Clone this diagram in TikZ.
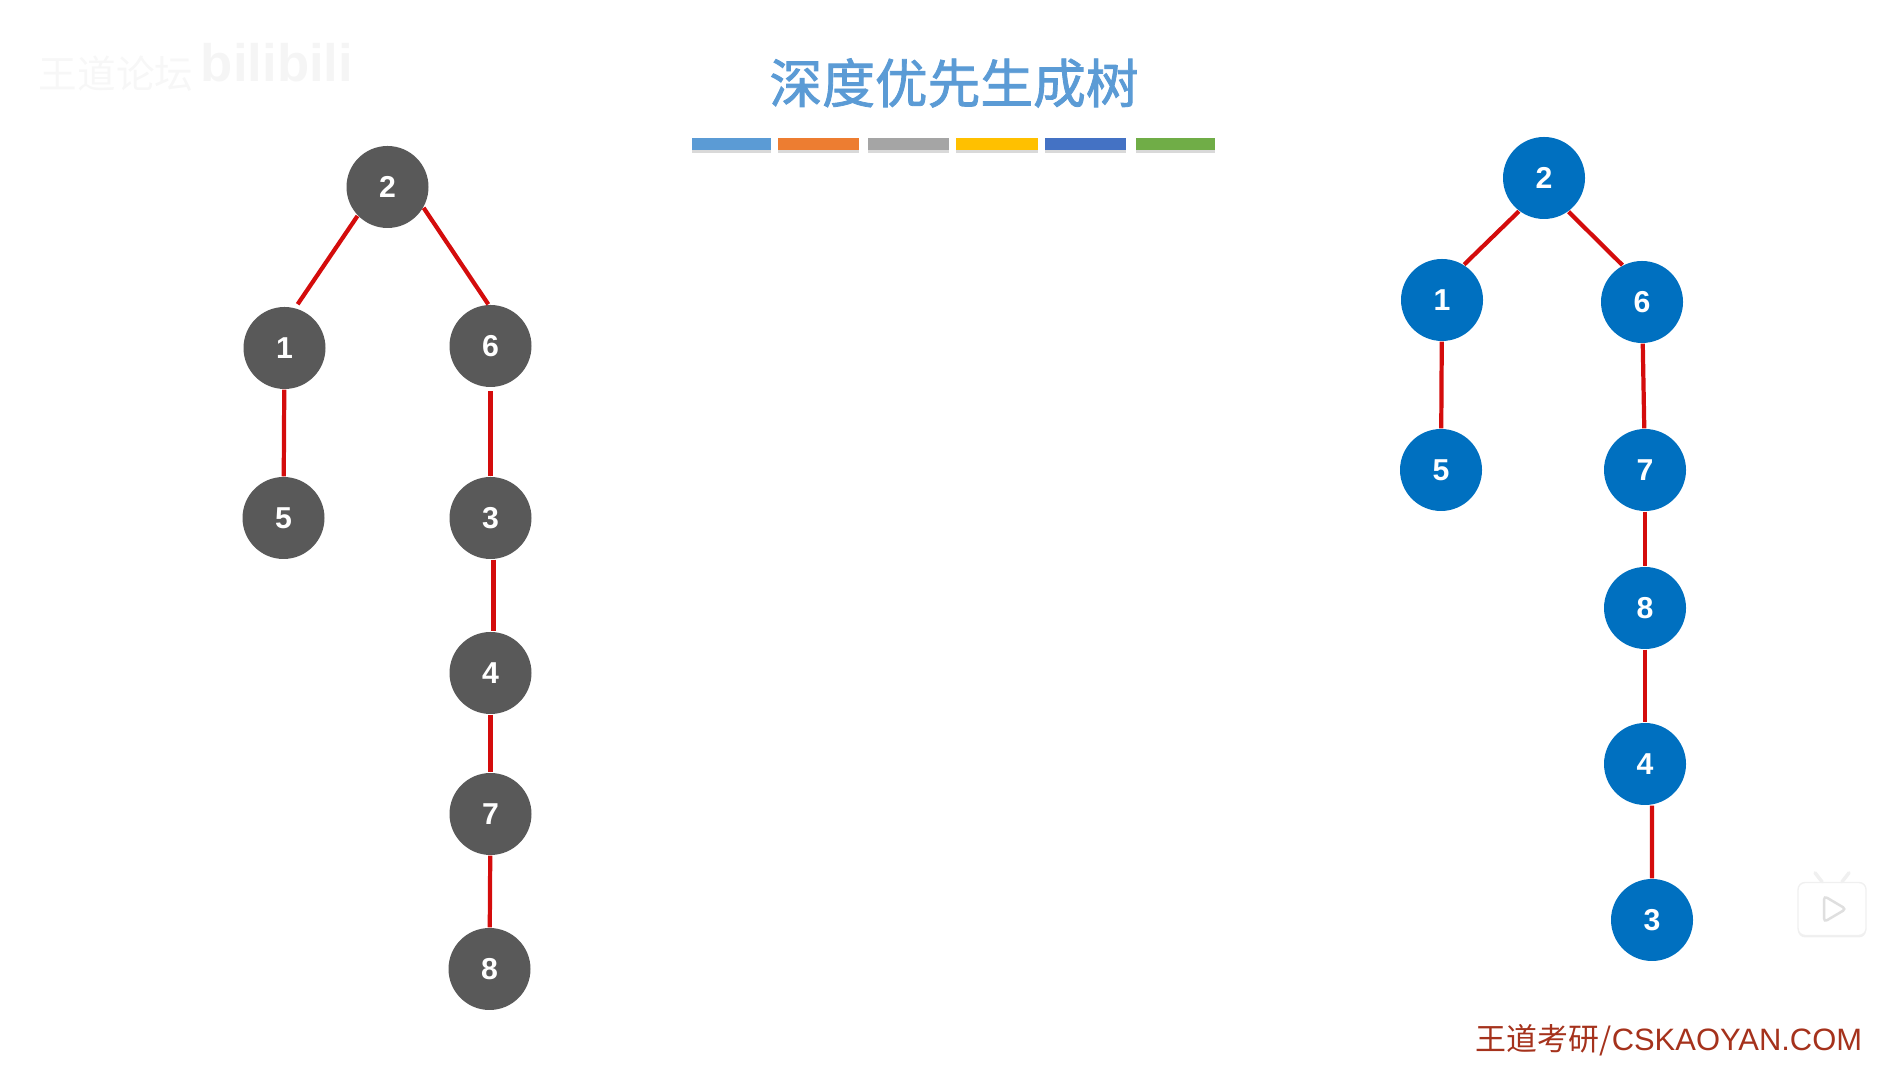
\documentclass[tikz,border=0pt]{standalone}
\usepackage{fontspec}
\setmainfont{Liberation Sans}
\newfontfamily\cjk{Noto Sans CJK SC}
\newfontfamily\cjkhead[FakeBold=1.6]{Noto Sans CJK SC}
\usetikzlibrary{shadows}
\definecolor{titleblue}{HTML}{5B9BD5}
\definecolor{nodegray}{HTML}{595959}
\definecolor{nodeblue}{HTML}{0070C0}
\definecolor{edgered}{HTML}{D40C0C}
\definecolor{markred}{HTML}{A5321C}
\definecolor{barorange}{HTML}{ED7D31}
\definecolor{bargray}{HTML}{A5A5A5}
\definecolor{baryellow}{HTML}{FFC000}
\definecolor{barblue}{HTML}{4472C4}
\definecolor{bargreen}{HTML}{70AD47}
\begin{document}
\begin{tikzpicture}[every node/.style={font=\bfseries\fontsize{8.6}{10}\selectfont},
  v/.style={circle, inner sep=0pt, minimum size=0.82cm, text=white},
  vl/.style={v, fill=nodegray},
  vr/.style={v, fill=nodeblue},
  e/.style={edgered, line width=1.2pt},
  bar/.style={inner sep=0pt, minimum height=0.115cm, drop shadow={opacity=0.3, shadow xshift=0pt, shadow yshift=-0.03cm}}]
\useasboundingbox (0,0) rectangle (19.03,10.66);
% heading
\node[font=\cjkhead\fontsize{15}{16}\selectfont, text=titleblue] (title) at (9.54,9.83) {深度优先生成树};
\node[bar, fill=titleblue, minimum width=0.79cm] (b1) at (7.315,9.22) {};
\node[bar, fill=barorange, minimum width=0.81cm] (b2) at (8.185,9.22) {};
\node[bar, fill=bargray, minimum width=0.81cm] (b3) at (9.085,9.22) {};
\node[bar, fill=baryellow, minimum width=0.82cm] (b4) at (9.97,9.22) {};
\node[bar, fill=barblue, minimum width=0.81cm] (b5) at (10.855,9.22) {};
\node[bar, fill=bargreen, minimum width=0.79cm] (b6) at (11.755,9.22) {};
% left tree
\node[vl] (l2) at (3.875,8.79) {2};
\node[vl] (l1) at (2.845,7.18) {1};
\node[vl] (l6) at (4.905,7.20) {6};
\node[vl] (l5) at (2.835,5.48) {5};
\node[vl] (l3) at (4.905,5.48) {3};
\node[vl] (l4) at (4.905,3.93) {4};
\node[vl] (l7) at (4.905,2.52) {7};
\node[vl] (l8) at (4.895,0.97) {8};
% left edges
\draw[e, shorten >=1.2pt] (l2.224)--(l1.75); \draw[e] (l2.-30)--(l6.93);
\draw[e] (l1)--(l5); \draw[e, shorten <=1pt] (l6)--(l3);
\draw[e] ([xshift=0.03cm]l3.south)--([xshift=0.03cm]l4.north);
\draw[e] (l4)--(l7); \draw[e] (l7)--(l8);
% right tree
\node[vr] (r2) at (15.44,8.88) {2};
\node[vr] (r1) at (14.42,7.66) {1};
\node[vr] (r6) at (16.42,7.64) {6};
\node[vr] (r5) at (14.41,5.96) {5};
\node[vr] (r7) at (16.45,5.96) {7};
\node[vr] (r8) at (16.45,4.58) {8};
\node[vr] (r4) at (16.45,3.02) {4};
\node[vr] (r3) at (16.52,1.46) {3};
% right edges
\draw[e] (r2.233)--(r1.58); \draw[e] (r2.-54)--(r6.118);
\draw[e] (r1)--(r5); \draw[e] (r6)--(r7);
\draw[e] (r7)--(r8); \draw[e] (r8)--(r4);
\draw[e] ([xshift=0.07cm]r4.south)--(r3);
% marks
\node[font=\cjk\fontsize{8.8}{10}\selectfont, text=markred] (site) at (16.69,0.26) {王道考研/{\fontspec{Liberation Sans}CSKAOYAN.COM}};
\node[font=\cjk\fontsize{11}{12}\selectfont, text=gray!6] (wm) at (1.16,9.92) {王道论坛};
\node[font=\bfseries\fontsize{15}{16}\selectfont, text=gray!8] (bili) at (2.77,10.03) {bilibili};
% player icon
\node[draw=gray!12, fill=white, rounded corners=2pt, inner sep=0pt, minimum width=0.68cm, minimum height=0.53cm, drop shadow={opacity=0.12, shadow xshift=0pt, shadow yshift=-0.02cm}] (tv) at (18.32,1.57) {};
\draw[gray!12, line width=1pt, line cap=round] ([xshift=-0.1cm]tv.north)--++(-0.07,0.09);
\draw[gray!12, line width=1pt, line cap=round] ([xshift=0.1cm]tv.north)--++(0.07,0.09);
\draw[gray!25, rounded corners=1pt, line width=0.7pt] ([xshift=-0.08cm,yshift=0.13cm]tv.center)--([xshift=-0.08cm,yshift=-0.13cm]tv.center)--([xshift=0.14cm]tv.center)--cycle;
\end{tikzpicture}
\end{document}
